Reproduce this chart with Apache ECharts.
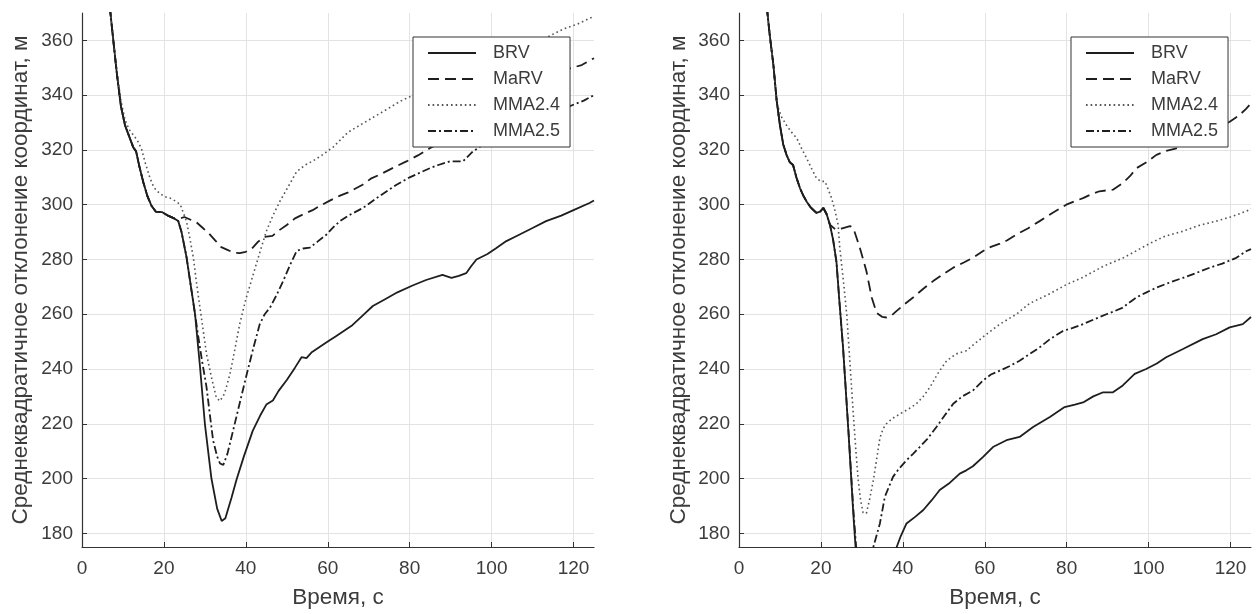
<!DOCTYPE html>
<html>
<head>
<meta charset="utf-8">
<script src="https://cdn.jsdelivr.net/npm/echarts@6/dist/echarts.min.js"></script>
<style>
  html, body { margin: 0; padding: 0; background: #fff; }
  #chart { width: 1256px; height: 614px; }
</style>
</head>
<body>
<div id="chart"></div>
<script>
// Tick values shared by both panels
const xTicks = [0, 20, 40, 60, 80, 100, 120];
const yTicks = [180, 200, 220, 240, 260, 280, 300, 320, 340, 360];
const seriesNames = ['BRV', 'MaRV', 'MMA2.4', 'MMA2.5'];

// Left panel: [time, s ; RMS error, m]
const leftBRV = [
  [6.8, 372], [7.5, 362], [8.5, 348], [9.5, 336], [10.5, 329], [11.5, 325], [12.5, 321], [13.2, 319.5],
  [14, 314], [15, 308], [16, 303], [17, 299.5], [18, 297.5], [19.5, 297.3], [21, 296], [22.5, 295],
  [23.5, 294], [24.3, 290], [25.5, 281], [26.5, 271], [27.6, 260], [28.8, 241], [30, 220], [31.6, 200],
  [33, 189], [34.1, 184.5], [35, 185.5], [36.5, 193], [37.7, 199.5], [39.5, 208], [41.7, 217.5],
  [43.5, 223], [45, 227], [46.6, 228.5], [48, 232], [50, 236], [52, 240.5], [53.6, 244.3], [54.8, 244],
  [56, 246], [58, 248], [60, 250], [62, 252], [64, 254], [66, 256], [68.5, 259.5], [71, 263],
  [74, 265.5], [77, 268], [80.7, 270.5], [84, 272.5], [88, 274.4], [90.2, 273.3], [92, 274],
  [93.8, 275], [95, 277.5], [96.3, 280], [99, 282], [101, 284], [103.6, 286.7], [106, 288.5],
  [110, 291.5], [113.3, 294], [117, 296], [120, 298], [123.9, 300.6], [125, 301.5]
];
const leftMaRV = [
  [6.8, 372], [7.5, 362], [8.5, 348], [9.5, 336], [10.5, 329], [11.5, 325], [12.5, 321], [13.2, 319.5],
  [14, 314], [15, 308], [16, 303], [17, 299.5], [18, 297.5], [19.5, 297.3], [21, 296], [22.5, 295],
  [24, 295], [25, 295.5], [26.5, 294.5], [28, 293.5], [29.5, 291.5], [31, 289.5], [32.5, 287],
  [34, 284.5], [35.5, 283.5], [37, 282.5], [38.5, 282.3], [40, 282.8], [41.5, 284], [43, 286.5],
  [44.5, 288.2], [46.5, 288.6], [48, 290.5], [50, 292.6], [52, 295], [54, 296.5], [56.3, 298],
  [58, 299.5], [60.5, 301.5], [63, 303.3], [65, 304.5], [68.5, 307.3], [70.5, 309.5], [72.7, 311],
  [76, 313.5], [79.2, 315.8], [82, 318], [84.9, 320.6], [88, 323], [92, 326.5], [96, 330],
  [100, 333.5], [104, 337], [108, 340.5], [112, 344], [116, 347.5], [119, 349.7], [122, 351], [125, 353.5]
];
const leftMMA24 = [
  [6.8, 372], [7.5, 362], [8.5, 349], [9.5, 338], [10.5, 331], [11.5, 327.5], [12.5, 325.5],
  [13.5, 323.5], [14.5, 320.5], [15.5, 315], [16.6, 309.7], [17.5, 306.5], [18.3, 305], [20, 303],
  [21.5, 302.4], [23, 301.2], [24, 300], [25.5, 294], [26.3, 288], [27.2, 280.6], [28, 271],
  [28.8, 262.4], [29.6, 254], [30.4, 245.5], [31.6, 237], [32.8, 229.5], [33.7, 228.3], [34.8, 231],
  [36.1, 238], [37.3, 247], [38.5, 256.4], [40, 265.5], [41.8, 274.5], [43.5, 283], [45, 290.3],
  [46.6, 296], [48.3, 301.2], [50.5, 307], [52.4, 312.1], [54.5, 314.5], [56.4, 316], [58.5, 318],
  [61.3, 321], [65, 326.5], [69.4, 330.4], [73.5, 334], [77.6, 337.7], [80.7, 339.9], [85, 342.8],
  [90, 346.3], [95, 349.5], [100, 352.5], [105, 355.5], [110, 358.8], [114, 361.5], [117.3, 364],
  [121, 366], [125, 368.8]
];
const leftMMA25 = [
  [6.8, 372], [7.5, 362], [8.5, 348], [9.5, 336], [10.5, 329], [11.5, 325], [12.5, 321], [13.2, 319.5],
  [14, 314], [15, 308], [16, 303], [17, 299.5], [18, 297.5], [19.5, 297.3], [21, 296], [22.5, 295],
  [23.5, 294], [24.3, 290], [25.5, 281], [26.5, 271], [27.5, 261], [28.3, 252.7], [29.3, 243],
  [30.4, 233.4], [31.2, 223.5], [32, 214], [33, 208], [33.7, 205.5], [34.5, 205], [35.5, 209],
  [36.9, 217.6], [38.5, 227.5], [40.2, 238], [41.8, 247.5], [43.4, 256.4], [44.6, 260], [45.9, 262.4],
  [47.5, 267], [49.1, 272.1], [50.8, 278], [52.4, 283.1], [54, 284], [55.6, 284.3], [57.5, 286.5],
  [59.7, 289.1], [61.5, 292], [63, 294], [65, 296], [68.6, 298.8], [72.5, 303], [76.8, 307.3],
  [80, 310], [84.9, 313.3], [87, 314.5], [89.8, 315.8], [93, 315.8], [95.4, 319.4], [98, 322],
  [101, 324.5], [104, 326.5], [108, 329], [112, 331.5], [116, 334], [119.8, 336.4], [122.5, 338], [125, 340]
];

// Right panel
const rightBRV = [
  [6.8, 372], [7.5, 362], [8.4, 351], [9.2, 338], [10, 329], [10.8, 322], [11.6, 318.2], [12.4, 315.5],
  [13.2, 314.5], [14, 310], [14.9, 306], [15.7, 303.3], [16.5, 301.2], [17.5, 299], [18.9, 297],
  [19.8, 297.5], [20.6, 298.8], [21.4, 296.5], [22.2, 292.7], [23, 287], [23.8, 279], [24.6, 263],
  [25.4, 247.9], [26.7, 217.6], [27.9, 187.3], [28.5, 174], [30.5, 160], [33.5, 152], [36.5, 162],
  [38.5, 175], [39.5, 179], [40.9, 183.6], [43, 186], [45, 188.5], [47, 192], [49, 195.8],
  [51.5, 198.5], [53.9, 201.8], [55.5, 203], [57.1, 204.5], [59.6, 207.9], [62, 211.5], [65.3, 214],
  [68.5, 215.2], [71.8, 218.8], [75.9, 222.5], [79.5, 226.1], [82, 227], [84, 227.8], [86.5, 230],
  [88.9, 231.5], [91.3, 231.5], [93.7, 234], [96.6, 238.2], [99.4, 240], [102, 242], [104.3, 244.3],
  [108.4, 247.3], [113.2, 250.9], [116.5, 252.7], [119.8, 255.2], [123, 256.4], [125, 259]
];
const rightMaRV = [
  [6.8, 372], [7.5, 362], [8.4, 351], [9.2, 338], [10, 329], [10.8, 322], [11.6, 318.2], [12.4, 315.5],
  [13.2, 314.5], [14, 310], [14.9, 306], [15.7, 303.3], [16.5, 301.2], [17.5, 299], [18.9, 297],
  [19.8, 297.5], [20.6, 298.8], [21.4, 296.5], [22.2, 292.7], [23.5, 291], [25, 291.3], [27.1, 292.2],
  [27.9, 291.5], [29.5, 284.3], [31.1, 275.8], [32.4, 266.1], [33.6, 260.5], [35, 259], [36, 258.8],
  [37.2, 259.5], [38.5, 261.2], [40.5, 263.8], [42.5, 266.1], [45, 269.3], [47.4, 272.1], [50, 274.8],
  [52.3, 277], [55, 279], [57.1, 280.6], [59.6, 283.1], [61.5, 284.6], [63.7, 285.8], [65.5, 287],
  [67.7, 289.1], [70.5, 291.3], [73.4, 294], [76.5, 297], [79.9, 300], [82, 301.3], [84, 302.4],
  [86, 303.8], [88, 304.9], [91.3, 305.5], [93.7, 307.9], [95.5, 310.5], [97, 313.3], [99.5, 315.5],
  [101.9, 318.2], [104, 319.5], [106.8, 320.6], [109, 322.5], [112, 325], [115, 327], [117.5, 328.5],
  [119.8, 330.3], [122, 332.5], [123.8, 335], [125, 337]
];
const rightMMA24 = [
  [6.8, 372], [7.5, 362], [8.4, 351], [9.2, 337], [10.4, 332], [11.6, 329], [12.8, 326.5],
  [14.1, 324.3], [15.3, 320.5], [16.5, 317], [17.7, 313.3], [18.9, 309.7], [20, 308.5], [21, 308.5],
  [21.8, 305.5], [22.6, 302.4], [23.4, 298], [24.2, 292.7], [24.6, 284.3], [25.5, 272], [26.3, 260],
  [27.1, 242], [27.9, 223.6], [28.5, 211], [29.1, 199.4], [29.7, 192], [30.3, 187.5], [31.1, 187.3],
  [31.9, 192.5], [32.8, 199.4], [33.6, 207], [34.4, 214.8], [35.2, 218.3], [36, 220], [37.5, 222],
  [39.3, 223.6], [41.3, 225.3], [43.3, 227.3], [45, 230], [46.6, 233.3], [48.6, 238.5], [50.7, 243],
  [53, 245.5], [55.5, 246.7], [58, 249.8], [60.4, 252.7], [63.7, 256.4], [67.7, 260], [71, 264],
  [75.9, 267.5], [79.9, 270.8], [84, 273.5], [88.9, 277.5], [93.7, 280.5], [96.2, 282.5],
  [100.2, 285.8], [104, 288.5], [108.4, 290.3], [112, 292.3], [116.5, 294], [120, 295.5],
  [123.8, 297.6], [125, 298.5]
];
const rightMMA25 = [
  [6.8, 372], [7.5, 362], [8.4, 351], [9.2, 338], [10, 329], [10.8, 322], [11.6, 318.2], [12.4, 315.5],
  [13.2, 314.5], [14, 310], [14.9, 306], [15.7, 303.3], [16.5, 301.2], [17.5, 299], [18.9, 297],
  [19.8, 297.5], [20.6, 298.8], [21.4, 296.5], [22.2, 292.7], [23, 287], [23.8, 279], [24.6, 263],
  [25.4, 247.9], [26.7, 218], [27.9, 189], [28.6, 175], [30, 166], [31.5, 168], [32.8, 175],
  [34.4, 183.6], [35.6, 193.3], [37.6, 200.6], [39, 203.5], [40.9, 206.7], [42.5, 209], [44.1, 211.5],
  [46, 214.5], [48.2, 218.8], [50.2, 223], [52.3, 227.3], [54.5, 230], [57.1, 232.1], [59.6, 235.8],
  [61.5, 238], [63.7, 239.4], [66, 241], [68.5, 243], [71, 245.5], [73.4, 247.9], [76, 251],
  [79.1, 253.9], [81.5, 255], [84, 256.4], [86.5, 258], [89.7, 260], [91.5, 261], [93.7, 262.4],
  [95.5, 264.5], [97, 266.1], [99.5, 268], [101.9, 269.7], [105, 271.5], [108.4, 273.3], [111.5, 275],
  [114.9, 277], [118, 278.5], [121.4, 280.6], [123.8, 283], [125, 283.8]
];

const FONT = '"Liberation Sans", Arial, Helvetica, sans-serif';
const TEXT = '#3c3c3c';

// Line appearance per method
const styles = {
  'BRV':    { type: 'solid', width: 1.8, color: '#1e1e1e' },
  'MaRV':   { type: [11, 6], width: 1.8, color: '#1e1e1e' },
  'MMA2.4': { type: [1.6, 3], width: 1.6, color: '#555555' },
  'MMA2.5': { type: [8, 3, 2, 3], width: 1.8, color: '#1e1e1e' }
};

function makeSeries(name, data, idx) {
  return {
    name: name, type: 'line', data: data,
    xAxisIndex: idx, yAxisIndex: idx,
    symbol: 'none', smooth: false, clip: true, animation: false,
    lineStyle: styles[name],
    itemStyle: { color: styles[name].color },
    z: 3
  };
}

function xAxisCfg(idx) {
  return {
    type: 'value', gridIndex: idx, min: 0, max: 125,
    name: 'Время, с', nameLocation: 'middle', nameGap: 39,
    nameTextStyle: { fontFamily: FONT, fontSize: 22.5, color: TEXT },
    axisLine: { show: true, onZero: false, lineStyle: { color: '#333', width: 1.2 } },
    axisTick: { show: true, inside: true, length: 5, customValues: xTicks, lineStyle: { color: '#333' } },
    axisLabel: { customValues: xTicks, margin: 12, fontFamily: FONT, fontSize: 19, color: TEXT },
    splitLine: { show: true, lineStyle: { color: '#e3e3e3', width: 1 } }
  };
}

function yAxisCfg(idx, gap) {
  return {
    type: 'value', gridIndex: idx, min: 175, max: 370,
    name: 'Среднеквадратичное отклонение координат, м', nameLocation: 'middle', nameGap: gap,
    nameTextStyle: { fontFamily: FONT, fontSize: 22.5, color: TEXT },
    axisLine: { show: true, onZero: false, lineStyle: { color: '#333', width: 1.2 } },
    axisTick: { show: true, inside: true, length: 5, customValues: yTicks, lineStyle: { color: '#333' } },
    axisLabel: { customValues: yTicks, margin: 9, fontFamily: FONT, fontSize: 19, color: TEXT },
    splitLine: { show: true, lineStyle: { color: '#e3e3e3', width: 1 } }
  };
}

function legendCfg(left) {
  return {
    orient: 'vertical', left: left, top: 37,
    data: seriesNames,
    itemWidth: 48, itemHeight: 18, itemGap: 8,
    padding: [7, 10, 7, 14],
    backgroundColor: '#fff', borderColor: '#333', borderWidth: 1, borderRadius: 0,
    selectedMode: false,
    itemStyle: { opacity: 0 },
    textStyle: { fontFamily: FONT, fontSize: 18, color: TEXT, padding: [0, 0, 0, 12] }
  };
}

const chart = echarts.init(document.getElementById('chart'), null, { renderer: 'canvas' });
chart.setOption({
  backgroundColor: '#fff',
  animation: false,
  grid: [
    { left: 82, top: 13, width: 512, height: 537 },
    { left: 739, top: 13, width: 512, height: 537 }
  ],
  xAxis: [xAxisCfg(0), xAxisCfg(1)],
  yAxis: [yAxisCfg(0, 50), yAxisCfg(1, 49)],
  legend: [legendCfg(413), legendCfg(1071)],
  series: [
    makeSeries('BRV', leftBRV, 0),
    makeSeries('MaRV', leftMaRV, 0),
    makeSeries('MMA2.4', leftMMA24, 0),
    makeSeries('MMA2.5', leftMMA25, 0),
    makeSeries('BRV', rightBRV, 1),
    makeSeries('MaRV', rightMaRV, 1),
    makeSeries('MMA2.4', rightMMA24, 1),
    makeSeries('MMA2.5', rightMMA25, 1)
  ]
});
</script>
</body>
</html>
